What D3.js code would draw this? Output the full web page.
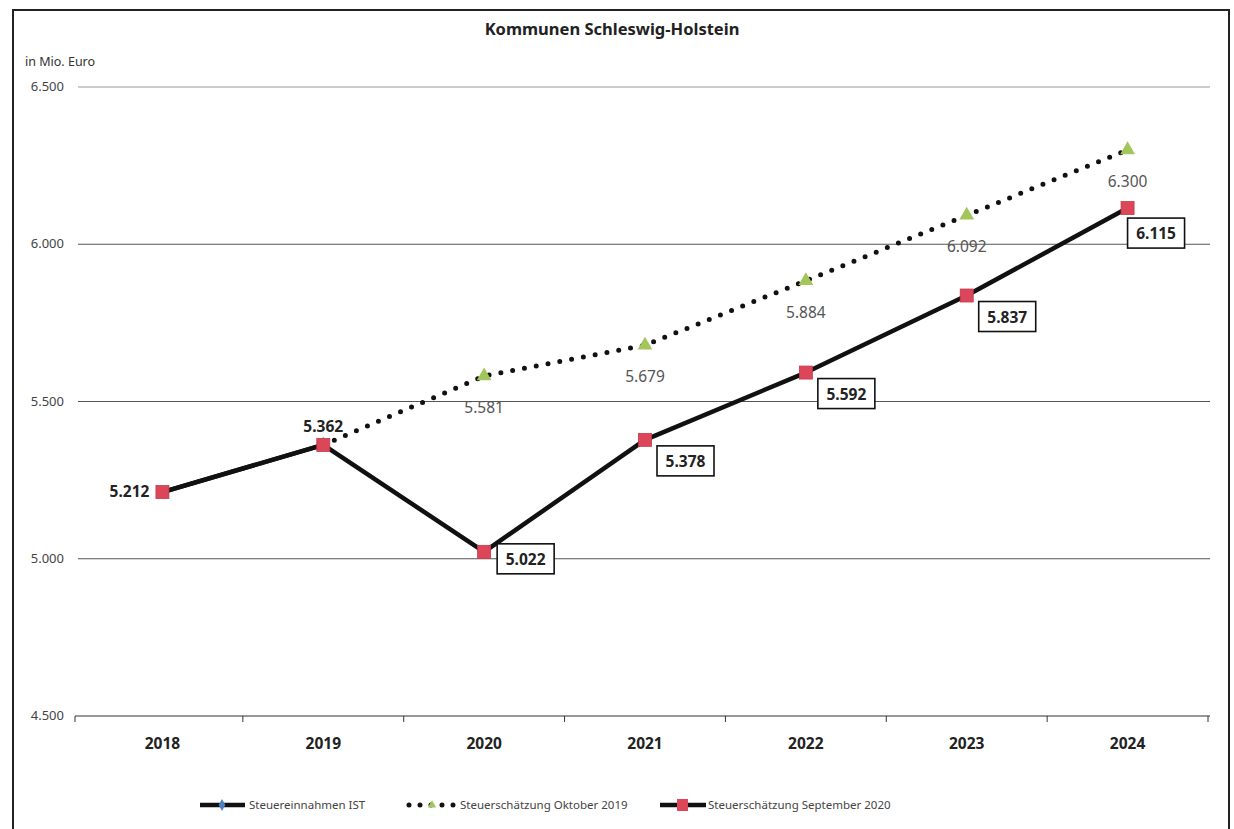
<!DOCTYPE html>
<html>
<head>
<meta charset="utf-8">
<script src="https://cdn.jsdelivr.net/npm/d3@7"></script>
<style>
  body { margin: 0; background: #fff; }
  text { font-family: "Noto Sans", "Open Sans", sans-serif; }
</style>
</head>
<body>
<script>
// data
var years = ["2018", "2019", "2020", "2021", "2022", "2023", "2024"];
var istValues = [5212, 5362, null, null, null, null, null];
var okt2019Values = [null, 5362, 5581, 5679, 5884, 6092, 6300];
var sep2020Values = [5212, 5362, 5022, 5378, 5592, 5837, 6115];
var yTicks = [4500, 5000, 5500, 6000, 6500];
var legendLabels = ["Steuereinnahmen IST", "Steuerschätzung Oktober 2019", "Steuerschätzung September 2020"];

var width = 1234, height = 829;

var svg = d3.select("body").append("svg")
    .attr("width", width)
    .attr("height", height);

// frame
svg.append("rect")
    .attr("x", 13).attr("y", 10)
    .attr("width", 1216).attr("height", 840)
    .attr("fill", "none")
    .attr("stroke", "#222")
    .attr("stroke-width", 2);

var x = d3.scaleBand().domain(years).range([82, 1208]);
var y = d3.scaleLinear().domain([4500, 6500]).range([716, 87]);
var cx = function(d, i) { return x(years[i]) + x.bandwidth() / 2; };
var fmt = function(d) { return d3.format(",")(d).replace(",", "."); };

// title
svg.append("text")
    .attr("x", 612).attr("y", 35)
    .attr("text-anchor", "middle")
    .attr("font-size", 16.5)
    .attr("font-weight", "bold")
    .attr("fill", "#222")
    .text("Kommunen Schleswig-Holstein");

svg.append("text")
    .attr("x", 25).attr("y", 66)
    .attr("font-size", 12.5)
    .attr("fill", "#333")
    .text("in Mio. Euro");

// gridlines
svg.selectAll(".grid")
    .data(yTicks.slice(1))
    .enter().append("line")
    .attr("x1", 78).attr("x2", 1210)
    .attr("y1", function(d) { return y(d); })
    .attr("y2", function(d) { return y(d); })
    .attr("stroke", function(d) { return d == 6500 ? "#999" : "#555"; })
    .attr("stroke-width", function(d) { return d == 6500 ? 1 : 1.2; });

// y labels
svg.selectAll(".ylab")
    .data(yTicks)
    .enter().append("text")
    .attr("x", 64)
    .attr("y", function(d) { return y(d) + 4; })
    .attr("text-anchor", "end")
    .attr("font-size", 13)
    .attr("fill", "#444")
    .text(fmt);

// x axis
var xAxis = svg.append("g")
    .attr("transform", "translate(0," + y(4500) + ")");
xAxis.append("line")
    .attr("x1", 75).attr("x2", 1210)
    .attr("stroke", "#333").attr("stroke-width", 1.2);
xAxis.selectAll(".tick")
    .data(years.concat(["end"]))
    .enter().append("line")
    .attr("x1", function(d, i) { return i == 0 ? 75 : x.range()[0] + i * x.step(); })
    .attr("x2", function(d, i) { return i == 0 ? 75 : x.range()[0] + i * x.step(); })
    .attr("y1", 0).attr("y2", 6)
    .attr("stroke", "#333");
xAxis.selectAll(".xlab")
    .data(years)
    .enter().append("text")
    .attr("x", function(d) { return x(d) + x.bandwidth() / 2; })
    .attr("y", 33)
    .attr("text-anchor", "middle")
    .attr("font-size", 15.5)
    .attr("font-weight", "bold")
    .attr("fill", "#222")
    .text(function(d) { return d; });

var line = d3.line()
    .defined(function(d) { return d != null; })
    .x(cx)
    .y(function(d) { return y(d); });

// IST series (under the september line)
svg.append("path")
    .datum(istValues)
    .attr("d", line)
    .attr("fill", "none")
    .attr("stroke", "#111")
    .attr("stroke-width", 4.5);

// Oktober 2019 dotted
svg.append("path")
    .datum(okt2019Values)
    .attr("d", line)
    .attr("fill", "none")
    .attr("stroke", "#111")
    .attr("stroke-width", 5)
    .attr("stroke-linecap", "round")
    .attr("stroke-dasharray", "0,12");

okt2019Values.forEach(function(d, i) {
    if (d == null) return;
    svg.append("path")
        .attr("d", d3.symbol().type(d3.symbolTriangle).size(95))
        .attr("transform", "translate(" + cx(d, i) + "," + y(d) + ")")
        .attr("fill", "#a3c65c");
    if (i < 2) return;
    svg.append("text")
        .attr("x", cx(d, i))
        .attr("y", y(d) + 37)
        .attr("text-anchor", "middle")
        .attr("font-size", 15.5)
        .attr("fill", "#555")
        .text(fmt(d));
});

// September 2020 solid
svg.append("path")
    .datum(sep2020Values)
    .attr("d", line)
    .attr("fill", "none")
    .attr("stroke", "#111")
    .attr("stroke-width", 4.5)
    .attr("stroke-linejoin", "round");

sep2020Values.forEach(function(d, i) {
    svg.append("rect")
        .attr("x", cx(d, i) - 6.5)
        .attr("y", y(d) - 6.5)
        .attr("width", 13).attr("height", 13)
        .attr("fill", "#dc4658")
        .attr("stroke", "#c43a50")
        .attr("stroke-width", 0.8);
});

// september labels
var boxDy = [0, 0, -8, 6, 6, 6, 10];
var boxDx = [0, 0, 13, 12, 12, 12, 0];
sep2020Values.forEach(function(d, i) {
    var px = cx(d, i), py = y(d);
    if (i == 0) {
        svg.append("text")
            .attr("x", px - 13).attr("y", py + 5)
            .attr("text-anchor", "end")
            .attr("font-size", 15.5).attr("font-weight", "bold")
            .attr("fill", "#222")
            .text(fmt(d));
    } else if (i == 1) {
        svg.append("text")
            .attr("x", px).attr("y", py - 13)
            .attr("text-anchor", "middle")
            .attr("font-size", 15.5).attr("font-weight", "bold")
            .attr("fill", "#222")
            .text(fmt(d));
    } else {
        var bx = px + boxDx[i], by = py + boxDy[i];
        svg.append("rect")
            .attr("x", bx).attr("y", by)
            .attr("width", 57).attr("height", 30)
            .attr("fill", "#fff")
            .attr("stroke", "#111")
            .attr("stroke-width", 1.6);
        svg.append("text")
            .attr("x", bx + 28.5).attr("y", by + 21)
            .attr("text-anchor", "middle")
            .attr("font-size", 15.5).attr("font-weight", "bold")
            .attr("fill", "#222")
            .text(fmt(d));
    }
});

// legend
var ly = 805;
var leg = svg.append("g").attr("font-size", 11.5).attr("fill", "#444");

leg.append("line").attr("x1", 200).attr("x2", 245).attr("y1", ly).attr("y2", ly)
    .attr("stroke", "#111").attr("stroke-width", 4.5);
leg.append("path").attr("d", d3.symbol().type(d3.symbolDiamond).size(40))
    .attr("transform", "translate(222," + ly + ")").attr("fill", "#4f81bd");
leg.append("text").attr("x", 249).attr("y", ly + 4).text(legendLabels[0]);

leg.append("line").attr("x1", 409).attr("x2", 455).attr("y1", ly).attr("y2", ly)
    .attr("stroke", "#111").attr("stroke-width", 5)
    .attr("stroke-linecap", "round").attr("stroke-dasharray", "0,11");
leg.append("path").attr("d", d3.symbol().type(d3.symbolTriangle).size(30))
    .attr("transform", "translate(432," + ly + ")").attr("fill", "#a3c65c");
leg.append("text").attr("x", 460).attr("y", ly + 4).text(legendLabels[1]);

leg.append("line").attr("x1", 660).attr("x2", 706).attr("y1", ly).attr("y2", ly)
    .attr("stroke", "#111").attr("stroke-width", 4.5);
leg.append("rect").attr("x", 677).attr("y", ly - 6).attr("width", 11).attr("height", 12)
    .attr("fill", "#dc4658");
leg.append("text").attr("x", 708).attr("y", ly + 4).text(legendLabels[2]);
</script>
</body>
</html>
